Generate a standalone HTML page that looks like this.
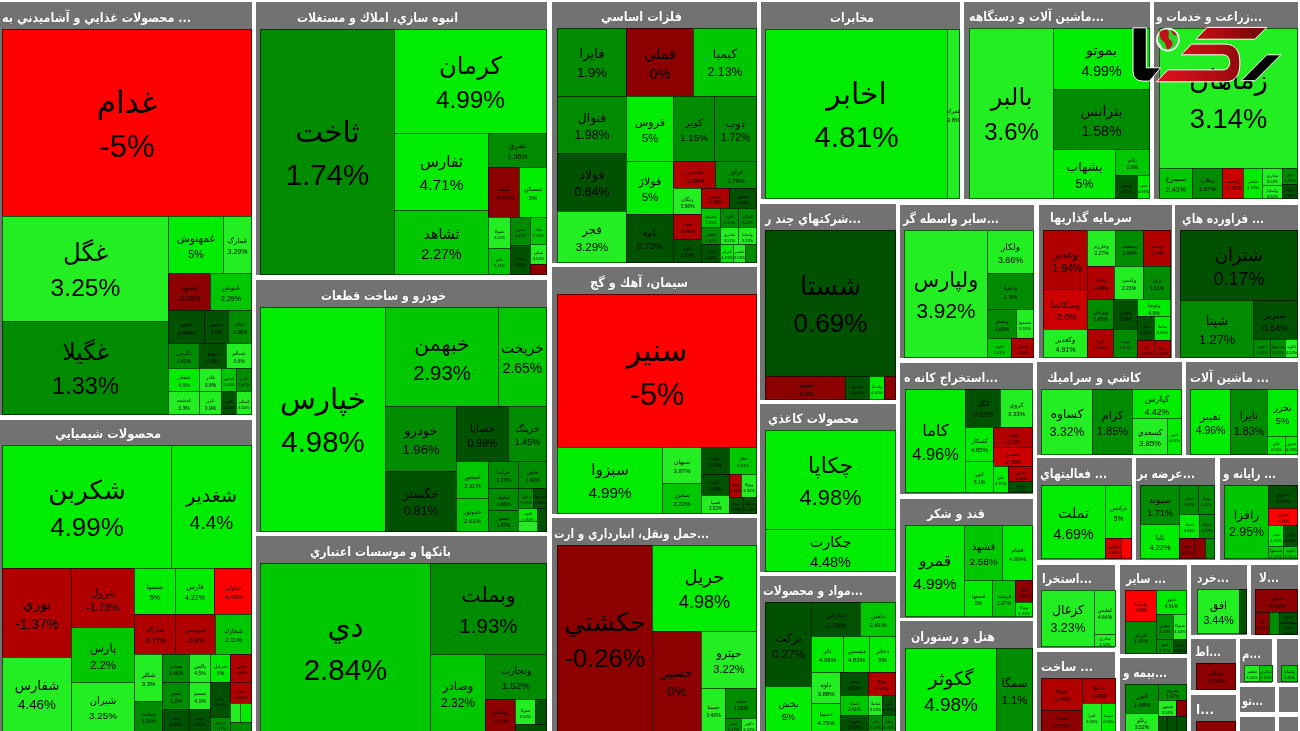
<!DOCTYPE html><html lang="fa"><head><meta charset="utf-8"><title>نقشه بازار</title><style>
*{margin:0;padding:0}
html,body{width:1300px;height:731px;overflow:hidden;background:#fff}
body{position:relative;font-family:"Liberation Sans","DejaVu Sans",sans-serif}
.p{position:absolute;background:#727272}
.h{position:absolute;height:16px;line-height:16px;color:#fff;font-weight:bold;font-size:13px;white-space:nowrap;font-family:"DejaVu Sans","Liberation Sans",sans-serif;transform-origin:0 50%;text-shadow:0 0 1px #444}
.b{position:absolute;box-sizing:border-box;border:1px solid rgba(0,0,0,.6);overflow:hidden;color:#000;text-align:center;display:flex;flex-direction:column;align-items:center;justify-content:center;line-height:1.42;white-space:nowrap;padding-top:3px}
.b span{display:block}
.n{font-family:"DejaVu Sans",sans-serif}
svg{position:absolute}
#w{position:absolute;left:0;top:0;width:1300px;height:731px;filter:blur(0.4px)}
</style></head><body><div id="w">
<div class="p" style="left:0px;top:2px;width:252px;height:413px"></div>
<div class="p" style="left:0px;top:420px;width:252px;height:311px"></div>
<div class="p" style="left:256px;top:2px;width:291px;height:273px"></div>
<div class="p" style="left:256px;top:280px;width:291px;height:252px"></div>
<div class="p" style="left:256px;top:536px;width:291px;height:195px"></div>
<div class="p" style="left:552px;top:2px;width:205px;height:261px"></div>
<div class="p" style="left:552px;top:267px;width:205px;height:247px"></div>
<div class="p" style="left:552px;top:518px;width:205px;height:213px"></div>
<div class="p" style="left:761px;top:2px;width:199px;height:197px"></div>
<div class="p" style="left:760px;top:204px;width:136px;height:196px"></div>
<div class="p" style="left:760px;top:404px;width:136px;height:168px"></div>
<div class="p" style="left:760px;top:576px;width:136px;height:155px"></div>
<div class="p" style="left:900px;top:205px;width:134px;height:153px"></div>
<div class="p" style="left:900px;top:363px;width:133px;height:131px"></div>
<div class="p" style="left:900px;top:499px;width:133px;height:119px"></div>
<div class="p" style="left:900px;top:621px;width:133px;height:110px"></div>
<div class="p" style="left:964px;top:2px;width:186px;height:197px"></div>
<div class="p" style="left:1154px;top:2px;width:144px;height:197px"></div>
<div class="p" style="left:1039px;top:205px;width:133px;height:153px"></div>
<div class="p" style="left:1175px;top:205px;width:123px;height:153px"></div>
<div class="p" style="left:1037px;top:362px;width:145px;height:93px"></div>
<div class="p" style="left:1186px;top:362px;width:112px;height:93px"></div>
<div class="p" style="left:1037px;top:458px;width:95px;height:102px"></div>
<div class="p" style="left:1136px;top:458px;width:79px;height:102px"></div>
<div class="p" style="left:1220px;top:458px;width:78px;height:102px"></div>
<div class="p" style="left:1037px;top:565px;width:78px;height:83px"></div>
<div class="p" style="left:1120px;top:565px;width:67px;height:89px"></div>
<div class="p" style="left:1191px;top:565px;width:56px;height:70px"></div>
<div class="p" style="left:1251px;top:565px;width:47px;height:70px"></div>
<div class="p" style="left:1037px;top:652px;width:78px;height:79px"></div>
<div class="p" style="left:1120px;top:658px;width:67px;height:73px"></div>
<div class="p" style="left:1191px;top:639px;width:45px;height:51px"></div>
<div class="p" style="left:1240px;top:639px;width:32px;height:44px"></div>
<div class="p" style="left:1277px;top:639px;width:21px;height:44px"></div>
<div class="p" style="left:1240px;top:687px;width:35px;height:25px"></div>
<div class="p" style="left:1279px;top:687px;width:19px;height:25px"></div>
<div class="p" style="left:1191px;top:695px;width:45px;height:36px"></div>
<div class="p" style="left:1240px;top:717px;width:35px;height:14px"></div>
<div class="p" style="left:1279px;top:717px;width:19px;height:14px"></div>
<div class="h" id="h0" style="left:2px;top:10px;transform:scaleX(0.862)">محصولات غذايي و آشاميدني به ...</div>
<div class="h" id="h1" style="left:55px;top:426px;transform:scaleX(0.878)">محصولات شيميايي</div>
<div class="h" id="h2" style="left:297px;top:10px;transform:scaleX(0.848)">انبوه سازي، املاك و مستغلات</div>
<div class="h" id="h3" style="left:321px;top:288px;transform:scaleX(0.841)">خودرو و ساخت قطعات</div>
<div class="h" id="h4" style="left:310px;top:544px;transform:scaleX(0.851)">بانكها و موسسات اعتباري</div>
<div class="h" id="h5" style="left:601px;top:9px;transform:scaleX(0.880)">فلزات اساسي</div>
<div class="h" id="h6" style="left:590px;top:275px;transform:scaleX(0.876)">سيمان، آهك و گچ</div>
<div class="h" id="h7" style="left:554px;top:526px;transform:scaleX(0.807)">حمل ونقل، انبارداري و ارت...</div>
<div class="h" id="h8" style="left:830px;top:10px;transform:scaleX(0.833)">مخابرات</div>
<div class="h" id="h9" style="left:765px;top:211px;transform:scaleX(0.852)">شركتهاي چند ر...</div>
<div class="h" id="h10" style="left:768px;top:411px;transform:scaleX(0.855)">محصولات كاغذي</div>
<div class="h" id="h11" style="left:763px;top:583px;transform:scaleX(0.830)">مواد و محصولات...</div>
<div class="h" id="h12" style="left:903px;top:211px;transform:scaleX(0.827)">ساير واسطه گر...</div>
<div class="h" id="h13" style="left:904px;top:370px;transform:scaleX(0.850)">استخراج كانه ه...</div>
<div class="h" id="h14" style="left:927px;top:506px;transform:scaleX(0.867)">قند و شكر</div>
<div class="h" id="h15" style="left:911px;top:629px;transform:scaleX(0.841)">هتل و رستوران</div>
<div class="h" id="h16" style="left:969px;top:9px;transform:scaleX(0.841)">ماشين آلات و دستگاهه...</div>
<div class="h" id="h17" style="left:1156px;top:9px;transform:scaleX(0.818)">زراعت و خدمات و...</div>
<div class="h" id="h18" style="left:1050px;top:210px;transform:scaleX(0.850)">سرمايه گذاريها</div>
<div class="h" id="h19" style="left:1182px;top:211px;transform:scaleX(0.815)">فراورده هاي ...</div>
<div class="h" id="h20" style="left:1047px;top:370px;transform:scaleX(0.884)">كاشي و سراميك</div>
<div class="h" id="h21" style="left:1190px;top:370px;transform:scaleX(0.842)">ماشين آلات ...</div>
<div class="h" id="h22" style="left:1040px;top:466px;transform:scaleX(0.828)">فعاليتهاي ...</div>
<div class="h" id="h23" style="left:1137px;top:466px;transform:scaleX(0.832)">عرضه بر...</div>
<div class="h" id="h24" style="left:1223px;top:466px;transform:scaleX(0.798)">رايانه و ...</div>
<div class="h" id="h25" style="left:1042px;top:571px;transform:scaleX(0.843)">استخرا...</div>
<div class="h" id="h26" style="left:1126px;top:571px;transform:scaleX(0.800)">ساير ...</div>
<div class="h" id="h27" style="left:1197px;top:570px;transform:scaleX(0.821)">خرد...</div>
<div class="h" id="h28" style="left:1259px;top:570px;transform:scaleX(0.816)">لا...</div>
<div class="h" id="h29" style="left:1041px;top:659px;transform:scaleX(0.865)">ساخت ...</div>
<div class="h" id="h30" style="left:1123px;top:665px;transform:scaleX(0.811)">بيمه و...</div>
<div class="h" id="h31" style="left:1195px;top:644px;transform:scaleX(0.793)">اط...</div>
<div class="h" id="h32" style="left:1242px;top:646px;transform:scaleX(0.780)">م...</div>
<div class="h" id="h34" style="left:1242px;top:693px;transform:scaleX(0.753)">تو...</div>
<div class="h" id="h36" style="left:1196px;top:702px;transform:scaleX(0.933)">ا...</div>
<div class="b" style="left:2px;top:29px;width:250px;height:188px;background:#fe0000;font-size:31.15px"><span class="n">غدام</span><span>-5%</span></div>
<div class="b" style="left:2px;top:216px;width:167px;height:106px;background:#22ee22;font-size:24.62px"><span class="n">غگل</span><span>3.25%</span></div>
<div class="b" style="left:2px;top:321px;width:167px;height:94px;background:#008c00;font-size:23.58px"><span class="n">غگيلا</span><span>1.33%</span></div>
<div class="b" style="left:168px;top:216px;width:56px;height:58px;background:#00ec00;font-size:10.67px"><span class="n">غمهنوش</span><span>5%</span></div>
<div class="b" style="left:223px;top:216px;width:29px;height:58px;background:#22ee22;font-size:7px"><span class="n">غمارگ</span><span>3.29%</span></div>
<div class="b" style="left:168px;top:273px;width:43px;height:38px;background:#8c0000;font-size:7px"><span class="n">غشهد</span><span>-0.38%</span></div>
<div class="b" style="left:210px;top:273px;width:42px;height:38px;background:#00c800;font-size:7px"><span class="n">غنوش</span><span>2.29%</span></div>
<div class="b" style="left:168px;top:310px;width:37px;height:34px;background:#005200;font-size:6px"><span class="n">غپينو</span><span>0.88%</span></div>
<div class="b" style="left:204px;top:310px;width:25px;height:34px;background:#005200;font-size:5px"><span class="n">غبشهر</span><span>1.0%</span></div>
<div class="b" style="left:228px;top:310px;width:24px;height:34px;background:#008c00;font-size:5px"><span class="n">غپاك</span><span>1.09%</span></div>
<div class="b" style="left:168px;top:343px;width:32px;height:26px;background:#008c00;font-size:5px"><span class="n">غگرجي</span><span>1.41%</span></div>
<div class="b" style="left:199px;top:343px;width:28px;height:26px;background:#005200;font-size:5px"><span class="n">غبهنو</span><span>0.5%</span></div>
<div class="b" style="left:226px;top:343px;width:26px;height:26px;background:#22ee22;font-size:5px"><span class="n">غسالم</span><span>3.6%</span></div>
<div class="b" style="left:168px;top:368px;width:32px;height:24px;background:#00ec00;font-size:5px"><span class="n">غشاذر</span><span>4.5%</span></div>
<div class="b" style="left:199px;top:368px;width:23px;height:24px;background:#22ee22;font-size:5px"><span class="n">غاذر</span><span>3.8%</span></div>
<div class="b" style="left:221px;top:368px;width:16px;height:24px;background:#00c800;font-size:4px"><span class="n">غبشهر</span><span>2.41%</span></div>
<div class="b" style="left:236px;top:368px;width:16px;height:24px;background:#008c00;font-size:4px"><span class="n">خفنر</span><span>1.47%</span></div>
<div class="b" style="left:168px;top:391px;width:32px;height:24px;background:#22ee22;font-size:5px"><span class="n">غدشت</span><span>3.3%</span></div>
<div class="b" style="left:199px;top:391px;width:23px;height:24px;background:#22ee22;font-size:5px"><span class="n">غزر</span><span>3.9%</span></div>
<div class="b" style="left:221px;top:391px;width:16px;height:24px;background:#005200;font-size:4px"><span class="n">ثالوند</span><span>0.63%</span></div>
<div class="b" style="left:236px;top:391px;width:16px;height:24px;background:#22ee22;font-size:4px"><span class="n">كمنگنز</span><span>3.52%</span></div>
<div class="b" style="left:2px;top:445px;width:170px;height:124px;background:#00ec00;font-size:26.01px"><span class="n">شكربن</span><span>4.99%</span></div>
<div class="b" style="left:171px;top:445px;width:81px;height:124px;background:#00ec00;font-size:19.02px"><span class="n">شغدير</span><span>4.4%</span></div>
<div class="b" style="left:2px;top:568px;width:70px;height:90px;background:#b00000;font-size:13.79px"><span class="n">نوري</span><span>-1.37%</span></div>
<div class="b" style="left:2px;top:657px;width:70px;height:75px;background:#22ee22;font-size:13.34px"><span class="n">شفارس</span><span>4.46%</span></div>
<div class="b" style="left:71px;top:568px;width:64px;height:60px;background:#b00000;font-size:10.52px"><span class="n">بترول</span><span>-1.78%</span></div>
<div class="b" style="left:71px;top:627px;width:64px;height:56px;background:#00c800;font-size:11.46px"><span class="n">پارس</span><span>2.2%</span></div>
<div class="b" style="left:71px;top:682px;width:64px;height:50px;background:#22ee22;font-size:9.9px"><span class="n">شيران</span><span>3.25%</span></div>
<div class="b" style="left:134px;top:568px;width:42px;height:47px;background:#00ec00;font-size:7px"><span class="n">شسپا</span><span>5%</span></div>
<div class="b" style="left:175px;top:568px;width:40px;height:47px;background:#00ec00;font-size:7px"><span class="n">فارس</span><span>4.22%</span></div>
<div class="b" style="left:214px;top:568px;width:38px;height:47px;background:#fe0000;font-size:6px"><span class="n">شاوان</span><span>-5.09%</span></div>
<div class="b" style="left:134px;top:614px;width:42px;height:41px;background:#b00000;font-size:7px"><span class="n">شاراك</span><span>-0.77%</span></div>
<div class="b" style="left:175px;top:614px;width:41px;height:41px;background:#b00000;font-size:7px"><span class="n">شپديس</span><span>-0.8%</span></div>
<div class="b" style="left:215px;top:614px;width:37px;height:41px;background:#00c800;font-size:6px"><span class="n">شخارك</span><span>2.11%</span></div>
<div class="b" style="left:134px;top:654px;width:29px;height:48px;background:#22ee22;font-size:6px"><span class="n">شكلر</span><span>3.3%</span></div>
<div class="b" style="left:134px;top:701px;width:29px;height:31px;background:#008c00;font-size:5px"><span class="n">شپاكسا</span><span>1.33%</span></div>
<div class="b" style="left:162px;top:654px;width:28px;height:29px;background:#008c00;font-size:5px"><span class="n">شبندر</span><span>1.46%</span></div>
<div class="b" style="left:162px;top:682px;width:28px;height:28px;background:#008c00;font-size:5px"><span class="n">شفن</span><span>1.2%</span></div>
<div class="b" style="left:162px;top:709px;width:28px;height:23px;background:#005200;font-size:4.3px"><span class="n">دتماد</span><span>0.63%</span></div>
<div class="b" style="left:189px;top:654px;width:22px;height:29px;background:#22ee22;font-size:5px"><span class="n">پاكس</span><span>4.5%</span></div>
<div class="b" style="left:189px;top:682px;width:22px;height:28px;background:#22ee22;font-size:5px"><span class="n">شسم</span><span>4.1%</span></div>
<div class="b" style="left:189px;top:709px;width:22px;height:23px;background:#005200;font-size:4px"><span class="n">ثنوسا</span><span>0.63%</span></div>
<div class="b" style="left:210px;top:654px;width:21px;height:29px;background:#00ec00;font-size:5px"><span class="n">شرانل</span><span>5%</span></div>
<div class="b" style="left:210px;top:682px;width:21px;height:36px;background:#005200;font-size:4px"><span class="n">رتكو</span><span>0.63%</span></div>
<div class="b" style="left:210px;top:717px;width:21px;height:15px;background:#008c00;font-size:4px"><span class="n">ساروم</span><span>1.47%</span></div>
<div class="b" style="left:230px;top:654px;width:22px;height:29px;background:#b00000;font-size:4px"><span class="n">غبشهر</span><span>-1.46%</span></div>
<div class="b" style="left:230px;top:682px;width:22px;height:22px;background:#b00000;font-size:4px"><span class="n">خفنر</span><span>-1.46%</span></div>
<div class="b" style="left:230px;top:703px;width:11px;height:20px;background:#22ee22;font-size:5px"></div>
<div class="b" style="left:240px;top:703px;width:12px;height:20px;background:#00ec00;font-size:5px"></div>
<div class="b" style="left:230px;top:722px;width:22px;height:10px;background:#008c00;font-size:5px"></div>
<div class="b" style="left:260px;top:29px;width:135px;height:246px;background:#008c00;font-size:29.52px"><span class="n">ثاخت</span><span>1.74%</span></div>
<div class="b" style="left:394px;top:29px;width:153px;height:105px;background:#00ec00;font-size:24.3px"><span class="n">كرمان</span><span>4.99%</span></div>
<div class="b" style="left:394px;top:133px;width:95px;height:78px;background:#00ec00;font-size:15.49px"><span class="n">ثفارس</span><span>4.71%</span></div>
<div class="b" style="left:394px;top:210px;width:95px;height:65px;background:#00c800;font-size:14.25px"><span class="n">ثشاهد</span><span>2.27%</span></div>
<div class="b" style="left:488px;top:133px;width:59px;height:35px;background:#008c00;font-size:7px"><span class="n">ثشرق</span><span>1.96%</span></div>
<div class="b" style="left:488px;top:167px;width:32px;height:51px;background:#8c0000;font-size:6px"><span class="n">ثاميد</span><span>-0.37%</span></div>
<div class="b" style="left:519px;top:167px;width:28px;height:51px;background:#00ec00;font-size:6px"><span class="n">ثمسكن</span><span>5%</span></div>
<div class="b" style="left:488px;top:217px;width:23px;height:32px;background:#22ee22;font-size:4px"><span class="n">شتوكا</span><span>3.52%</span></div>
<div class="b" style="left:488px;top:248px;width:23px;height:27px;background:#00c800;font-size:4px"><span class="n">تكنو</span><span>2.41%</span></div>
<div class="b" style="left:510px;top:217px;width:21px;height:29px;background:#008c00;font-size:4px"><span class="n">سدور</span><span>1.47%</span></div>
<div class="b" style="left:510px;top:245px;width:21px;height:30px;background:#005200;font-size:4px"><span class="n">وساپا</span><span>0.63%</span></div>
<div class="b" style="left:530px;top:217px;width:17px;height:28px;background:#00c800;font-size:4px"><span class="n">غپاك</span><span>2.41%</span></div>
<div class="b" style="left:530px;top:244px;width:17px;height:21px;background:#22ee22;font-size:4px"><span class="n">شپلي</span><span>3.52%</span></div>
<div class="b" style="left:530px;top:264px;width:17px;height:11px;background:#8c0000;font-size:5px"></div>
<div class="b" style="left:260px;top:307px;width:126px;height:225px;background:#00ec00;font-size:29.42px"><span class="n">خپارس</span><span>4.98%</span></div>
<div class="b" style="left:385px;top:307px;width:114px;height:100px;background:#00c800;font-size:20.36px"><span class="n">خبهمن</span><span>2.93%</span></div>
<div class="b" style="left:498px;top:307px;width:49px;height:100px;background:#00c800;font-size:13.96px"><span class="n">خريخت</span><span>2.65%</span></div>
<div class="b" style="left:385px;top:406px;width:72px;height:66px;background:#008c00;font-size:13.14px"><span class="n">خودرو</span><span>1.96%</span></div>
<div class="b" style="left:456px;top:406px;width:53px;height:56px;background:#005200;font-size:10.53px"><span class="n">خساپا</span><span>0.98%</span></div>
<div class="b" style="left:508px;top:406px;width:39px;height:56px;background:#008c00;font-size:9px"><span class="n">خرينگ</span><span>1.45%</span></div>
<div class="b" style="left:385px;top:471px;width:72px;height:61px;background:#005200;font-size:12.24px"><span class="n">خگستر</span><span>0.81%</span></div>
<div class="b" style="left:456px;top:461px;width:33px;height:38px;background:#00c800;font-size:6px"><span class="n">خمحور</span><span>2.11%</span></div>
<div class="b" style="left:456px;top:498px;width:33px;height:34px;background:#00c800;font-size:6px"><span class="n">خموتور</span><span>2.61%</span></div>
<div class="b" style="left:488px;top:461px;width:31px;height:28px;background:#008c00;font-size:5px"><span class="n">خزاميا</span><span>1.73%</span></div>
<div class="b" style="left:488px;top:488px;width:31px;height:23px;background:#008c00;font-size:5px"><span class="n">خكمك</span><span>1.66%</span></div>
<div class="b" style="left:488px;top:510px;width:31px;height:22px;background:#008c00;font-size:4.8px"><span class="n">غبشهر</span><span>1.47%</span></div>
<div class="b" style="left:518px;top:461px;width:29px;height:28px;background:#008c00;font-size:5px"><span class="n">خاهن</span><span>1.46%</span></div>
<div class="b" style="left:518px;top:488px;width:16px;height:21px;background:#008c00;font-size:4px"><span class="n">دكوثر</span><span>1.47%</span></div>
<div class="b" style="left:533px;top:488px;width:14px;height:21px;background:#005200;font-size:4px"><span class="n">شصفها</span><span>0.63%</span></div>
<div class="b" style="left:518px;top:508px;width:20px;height:14px;background:#00ec00;font-size:4px"><span class="n">ثالوند</span><span>4.91%</span></div>
<div class="b" style="left:537px;top:508px;width:10px;height:24px;background:#005200;font-size:5px"></div>
<div class="b" style="left:518px;top:521px;width:20px;height:11px;background:#22ee22;font-size:5px"></div>
<div class="b" style="left:260px;top:563px;width:171px;height:169px;background:#00c800;font-size:29.53px"><span class="n">دي</span><span>2.84%</span></div>
<div class="b" style="left:430px;top:563px;width:117px;height:92px;background:#008c00;font-size:20.55px"><span class="n">وبملت</span><span>1.93%</span></div>
<div class="b" style="left:430px;top:654px;width:56px;height:78px;background:#00c800;font-size:11.96px"><span class="n">وصادر</span><span>2.32%</span></div>
<div class="b" style="left:485px;top:654px;width:62px;height:46px;background:#008c00;font-size:9.96px"><span class="n">وتجارت</span><span>1.52%</span></div>
<div class="b" style="left:485px;top:699px;width:31px;height:33px;background:#8c0000;font-size:6px"><span class="n">وپاسار</span><span>-0.7%</span></div>
<div class="b" style="left:515px;top:699px;width:21px;height:26px;background:#22ee22;font-size:4px"><span class="n">شتوكا</span><span>3.52%</span></div>
<div class="b" style="left:535px;top:699px;width:12px;height:26px;background:#005200;font-size:5px"></div>
<div class="b" style="left:515px;top:724px;width:32px;height:8px;background:#005200;font-size:5px"></div>
<div class="b" style="left:557px;top:28px;width:70px;height:69px;background:#008c00;font-size:13.2px"><span class="n">فايرا</span><span>1.9%</span></div>
<div class="b" style="left:626px;top:28px;width:68px;height:69px;background:#8c0000;font-size:14.18px"><span class="n">فملي</span><span>0%</span></div>
<div class="b" style="left:693px;top:28px;width:64px;height:69px;background:#00c800;font-size:12.36px"><span class="n">كيميا</span><span>2.13%</span></div>
<div class="b" style="left:557px;top:96px;width:70px;height:58px;background:#008c00;font-size:12.42px"><span class="n">فنوال</span><span>1.98%</span></div>
<div class="b" style="left:557px;top:153px;width:70px;height:59px;background:#005200;font-size:12.42px"><span class="n">فولاد</span><span>0.64%</span></div>
<div class="b" style="left:557px;top:211px;width:70px;height:52px;background:#22ee22;font-size:11.52px"><span class="n">فجر</span><span>3.29%</span></div>
<div class="b" style="left:626px;top:96px;width:48px;height:66px;background:#00ec00;font-size:11.11px"><span class="n">فروس</span><span>5%</span></div>
<div class="b" style="left:626px;top:161px;width:48px;height:54px;background:#00ec00;font-size:11.11px"><span class="n">فولاژ</span><span>5%</span></div>
<div class="b" style="left:626px;top:214px;width:48px;height:49px;background:#005200;font-size:8.93px"><span class="n">تاوه</span><span>0.73%</span></div>
<div class="b" style="left:673px;top:96px;width:42px;height:66px;background:#008c00;font-size:9.87px"><span class="n">كوير</span><span>1.15%</span></div>
<div class="b" style="left:714px;top:96px;width:43px;height:66px;background:#008c00;font-size:10.24px"><span class="n">ذوب</span><span>1.72%</span></div>
<div class="b" style="left:673px;top:161px;width:43px;height:28px;background:#b00000;font-size:6px"><span class="n">فسرب</span><span>-1.48%</span></div>
<div class="b" style="left:715px;top:161px;width:42px;height:28px;background:#008c00;font-size:6px"><span class="n">فرآور</span><span>1.79%</span></div>
<div class="b" style="left:673px;top:188px;width:29px;height:27px;background:#22ee22;font-size:5px"><span class="n">زنگان</span><span>3.56%</span></div>
<div class="b" style="left:701px;top:188px;width:29px;height:21px;background:#b00000;font-size:4.5px"><span class="n">ساروم</span><span>-1.46%</span></div>
<div class="b" style="left:729px;top:188px;width:28px;height:21px;background:#005200;font-size:4.3px"><span class="n">غبشهر</span><span>0.63%</span></div>
<div class="b" style="left:673px;top:214px;width:29px;height:26px;background:#b00000;font-size:4.5px"><span class="n">خفنر</span><span>-1.46%</span></div>
<div class="b" style="left:673px;top:239px;width:29px;height:24px;background:#005200;font-size:4.5px"><span class="n">دكوثر</span><span>0.63%</span></div>
<div class="b" style="left:701px;top:208px;width:20px;height:20px;background:#00c800;font-size:4px"><span class="n">شصفها</span><span>2.41%</span></div>
<div class="b" style="left:720px;top:208px;width:19px;height:20px;background:#008c00;font-size:4px"><span class="n">ثالوند</span><span>1.47%</span></div>
<div class="b" style="left:738px;top:208px;width:19px;height:20px;background:#008c00;font-size:4px"><span class="n">كمنگنز</span><span>1.47%</span></div>
<div class="b" style="left:701px;top:227px;width:20px;height:18px;background:#008c00;font-size:4px"><span class="n">فباهنر</span><span>1.47%</span></div>
<div class="b" style="left:720px;top:227px;width:19px;height:18px;background:#22ee22;font-size:4px"><span class="n">ساذري</span><span>3.52%</span></div>
<div class="b" style="left:738px;top:227px;width:19px;height:18px;background:#22ee22;font-size:4px"><span class="n">ولساپا</span><span>3.52%</span></div>
<div class="b" style="left:701px;top:244px;width:20px;height:19px;background:#005200;font-size:4px"><span class="n">دابور</span><span>0.63%</span></div>
<div class="b" style="left:720px;top:244px;width:14px;height:19px;background:#00ec00;font-size:4px"><span class="n">كترام</span><span>4.91%</span></div>
<div class="b" style="left:733px;top:244px;width:13px;height:19px;background:#22ee22;font-size:4px"><span class="n">خنصير</span><span>3.52%</span></div>
<div class="b" style="left:745px;top:244px;width:12px;height:19px;background:#008c00;font-size:5px"></div>
<div class="b" style="left:557px;top:294px;width:200px;height:154px;background:#fe0000;font-size:30.72px"><span class="n">سنير</span><span>-5%</span></div>
<div class="b" style="left:557px;top:447px;width:106px;height:67px;background:#00ec00;font-size:15.26px"><span class="n">سبزوا</span><span>4.99%</span></div>
<div class="b" style="left:662px;top:447px;width:40px;height:37px;background:#22ee22;font-size:6px"><span class="n">سبهان</span><span>3.87%</span></div>
<div class="b" style="left:662px;top:483px;width:40px;height:31px;background:#00c800;font-size:6px"><span class="n">سخزر</span><span>2.22%</span></div>
<div class="b" style="left:701px;top:447px;width:29px;height:28px;background:#005200;font-size:4.5px"><span class="n">شپلي</span><span>0.63%</span></div>
<div class="b" style="left:729px;top:447px;width:28px;height:28px;background:#00c800;font-size:4.3px"><span class="n">خكار</span><span>2.41%</span></div>
<div class="b" style="left:701px;top:474px;width:29px;height:22px;background:#005200;font-size:4.5px"><span class="n">كاوه</span><span>0.63%</span></div>
<div class="b" style="left:701px;top:495px;width:29px;height:19px;background:#22ee22;font-size:4.5px"><span class="n">فسپا</span><span>3.52%</span></div>
<div class="b" style="left:729px;top:474px;width:13px;height:24px;background:#b00000;font-size:4px"><span class="n">سفار</span><span>-1.46%</span></div>
<div class="b" style="left:741px;top:474px;width:16px;height:24px;background:#22ee22;font-size:4px"><span class="n">وتوكا</span><span>3.52%</span></div>
<div class="b" style="left:729px;top:497px;width:15px;height:17px;background:#005200;font-size:4px"><span class="n">دتماد</span><span>0.63%</span></div>
<div class="b" style="left:743px;top:497px;width:14px;height:17px;background:#005200;font-size:4px"><span class="n">شاملا</span><span>0.63%</span></div>
<div class="b" style="left:557px;top:545px;width:96px;height:187px;background:#8c0000;font-size:25.49px"><span class="n">حكشتي</span><span>-0.26%</span></div>
<div class="b" style="left:652px;top:545px;width:105px;height:87px;background:#00ec00;font-size:18.08px"><span class="n">حريل</span><span>4.98%</span></div>
<div class="b" style="left:652px;top:631px;width:50px;height:101px;background:#8c0000;font-size:13.34px"><span class="n">حسير</span><span>0%</span></div>
<div class="b" style="left:701px;top:631px;width:56px;height:58px;background:#22ee22;font-size:11.08px"><span class="n">حپترو</span><span>3.22%</span></div>
<div class="b" style="left:701px;top:688px;width:25px;height:44px;background:#22ee22;font-size:5px"><span class="n">حسينا</span><span>3.43%</span></div>
<div class="b" style="left:725px;top:688px;width:32px;height:31px;background:#008c00;font-size:5px"><span class="n">حتايد</span><span>1.28%</span></div>
<div class="b" style="left:725px;top:718px;width:17px;height:14px;background:#008c00;font-size:4px"><span class="n">خفنر</span><span>1.47%</span></div>
<div class="b" style="left:741px;top:718px;width:16px;height:14px;background:#22ee22;font-size:4px"><span class="n">دكوثر</span><span>3.52%</span></div>
<div class="b" style="left:765px;top:29px;width:183px;height:170px;background:#00ec00;font-size:29.78px"><span class="n">اخابر</span><span>4.81%</span></div>
<div class="b" style="left:947px;top:29px;width:13px;height:170px;background:#22ee22;font-size:6px"><span class="n">همراه</span><span>3.8%</span></div>
<div class="b" style="left:765px;top:230px;width:131px;height:147px;background:#005200;font-size:26.15px"><span class="n">شستا</span><span>0.69%</span></div>
<div class="b" style="left:765px;top:376px;width:81px;height:24px;background:#8c0000;font-size:6px"><span class="n">شبندر</span><span>-0.4%</span></div>
<div class="b" style="left:845px;top:376px;width:25px;height:24px;background:#005200;font-size:4px"><span class="n">ساذري</span><span>0.63%</span></div>
<div class="b" style="left:869px;top:376px;width:16px;height:24px;background:#00ec00;font-size:4px"><span class="n">ولساپا</span><span>4.91%</span></div>
<div class="b" style="left:884px;top:376px;width:12px;height:24px;background:#8c0000;font-size:5px"></div>
<div class="b" style="left:765px;top:430px;width:131px;height:100px;background:#00ec00;font-size:21.89px"><span class="n">چكاپا</span><span>4.98%</span></div>
<div class="b" style="left:765px;top:529px;width:131px;height:43px;background:#00ec00;font-size:14.34px"><span class="n">چكارت</span><span>4.48%</span></div>
<div class="b" style="left:765px;top:602px;width:47px;height:85px;background:#005200;font-size:11.57px"><span class="n">بركت</span><span>0.27%</span></div>
<div class="b" style="left:765px;top:686px;width:47px;height:46px;background:#00ec00;font-size:9px"><span class="n">بخش</span><span>5%</span></div>
<div class="b" style="left:811px;top:602px;width:50px;height:35px;background:#005200;font-size:7px"><span class="n">دپارس</span><span>0.79%</span></div>
<div class="b" style="left:860px;top:602px;width:36px;height:35px;background:#00c800;font-size:6px"><span class="n">دامين</span><span>2.81%</span></div>
<div class="b" style="left:811px;top:636px;width:33px;height:37px;background:#00ec00;font-size:6px"><span class="n">دلر</span><span>4.99%</span></div>
<div class="b" style="left:843px;top:636px;width:27px;height:37px;background:#00ec00;font-size:6px"><span class="n">ديسمي</span><span>4.83%</span></div>
<div class="b" style="left:869px;top:636px;width:27px;height:37px;background:#00ec00;font-size:6px"><span class="n">دجابر</span><span>5%</span></div>
<div class="b" style="left:811px;top:672px;width:30px;height:32px;background:#22ee22;font-size:6px"><span class="n">داوه</span><span>3.88%</span></div>
<div class="b" style="left:811px;top:703px;width:30px;height:29px;background:#00ec00;font-size:6px"><span class="n">دسينا</span><span>4.75%</span></div>
<div class="b" style="left:840px;top:672px;width:29px;height:24px;background:#005200;font-size:4.5px"><span class="n">سفار</span><span>0.63%</span></div>
<div class="b" style="left:868px;top:672px;width:28px;height:24px;background:#b00000;font-size:4.3px"><span class="n">وتوكا</span><span>-1.46%</span></div>
<div class="b" style="left:840px;top:695px;width:29px;height:21px;background:#00c800;font-size:4.5px"><span class="n">دتماد</span><span>2.41%</span></div>
<div class="b" style="left:868px;top:695px;width:15px;height:21px;background:#22ee22;font-size:4px"><span class="n">شاملا</span><span>3.52%</span></div>
<div class="b" style="left:882px;top:695px;width:14px;height:21px;background:#005200;font-size:4px"><span class="n">كفرا</span><span>0.63%</span></div>
<div class="b" style="left:840px;top:715px;width:29px;height:17px;background:#005200;font-size:4.5px"><span class="n">ثنوسا</span><span>0.63%</span></div>
<div class="b" style="left:868px;top:715px;width:15px;height:17px;background:#008c00;font-size:4px"><span class="n">فاذر</span><span>1.47%</span></div>
<div class="b" style="left:882px;top:715px;width:14px;height:17px;background:#008c00;font-size:4px"><span class="n">رتكو</span><span>1.47%</span></div>
<div class="b" style="left:904px;top:230px;width:84px;height:128px;background:#22ee22;font-size:20.82px"><span class="n">ولپارس</span><span>3.92%</span></div>
<div class="b" style="left:987px;top:230px;width:47px;height:44px;background:#22ee22;font-size:8.88px"><span class="n">ولكار</span><span>3.86%</span></div>
<div class="b" style="left:987px;top:273px;width:47px;height:37px;background:#008c00;font-size:6px"><span class="n">واسپا</span><span>1.9%</span></div>
<div class="b" style="left:987px;top:309px;width:30px;height:30px;background:#008c00;font-size:5px"><span class="n">ولصنم</span><span>1.63%</span></div>
<div class="b" style="left:1016px;top:309px;width:18px;height:30px;background:#22ee22;font-size:4px"><span class="n">شصفها</span><span>3.52%</span></div>
<div class="b" style="left:987px;top:338px;width:25px;height:20px;background:#00c800;font-size:4px"><span class="n">ثالوند</span><span>2.41%</span></div>
<div class="b" style="left:1011px;top:338px;width:23px;height:20px;background:#b00000;font-size:4px"><span class="n">كمنگنز</span><span>-1.46%</span></div>
<div class="b" style="left:905px;top:389px;width:61px;height:104px;background:#00ec00;font-size:16.38px"><span class="n">كاما</span><span>4.96%</span></div>
<div class="b" style="left:965px;top:389px;width:36px;height:39px;background:#005200;font-size:7px"><span class="n">كگل</span><span>0.62%</span></div>
<div class="b" style="left:1000px;top:389px;width:33px;height:39px;background:#22ee22;font-size:6px"><span class="n">كروي</span><span>3.33%</span></div>
<div class="b" style="left:965px;top:427px;width:29px;height:35px;background:#00ec00;font-size:6px"><span class="n">كسكار</span><span>4.85%</span></div>
<div class="b" style="left:993px;top:427px;width:40px;height:21px;background:#b00000;font-size:5px"><span class="n">كچاد</span><span>-1.2%</span></div>
<div class="b" style="left:993px;top:447px;width:40px;height:20px;background:#cc0000;font-size:5.5px"><span class="n">خنصير</span><span>-2.38%</span></div>
<div class="b" style="left:965px;top:461px;width:29px;height:32px;background:#00ec00;font-size:5px"><span class="n">كنور</span><span>5.1%</span></div>
<div class="b" style="left:993px;top:466px;width:16px;height:27px;background:#00ec00;font-size:4px"><span class="n">تكنو</span><span>4.91%</span></div>
<div class="b" style="left:1008px;top:466px;width:25px;height:16px;background:#b00000;font-size:4px"><span class="n">سدور</span><span>-1.46%</span></div>
<div class="b" style="left:1008px;top:481px;width:25px;height:12px;background:#005200;font-size:4px"><span class="n">وساپا</span><span>0.63%</span></div>
<div class="b" style="left:905px;top:525px;width:60px;height:92px;background:#00ec00;font-size:15.34px"><span class="n">قمرو</span><span>4.99%</span></div>
<div class="b" style="left:964px;top:525px;width:39px;height:56px;background:#00c800;font-size:9.95px"><span class="n">قشهد</span><span>2.58%</span></div>
<div class="b" style="left:1002px;top:525px;width:31px;height:56px;background:#00ec00;font-size:6px"><span class="n">قجام</span><span>4.99%</span></div>
<div class="b" style="left:964px;top:580px;width:29px;height:37px;background:#00ec00;font-size:5px"><span class="n">قصفها</span><span>5%</span></div>
<div class="b" style="left:992px;top:580px;width:24px;height:37px;background:#00c800;font-size:5px"><span class="n">قرست</span><span>1.97%</span></div>
<div class="b" style="left:1015px;top:580px;width:18px;height:23px;background:#8c0000;font-size:4px"><span class="n">سفار</span><span>-0.52%</span></div>
<div class="b" style="left:1015px;top:602px;width:18px;height:15px;background:#00ec00;font-size:4px"><span class="n">وتوكا</span><span>4.91%</span></div>
<div class="b" style="left:905px;top:648px;width:92px;height:84px;background:#00ec00;font-size:18.93px"><span class="n">گكوثر</span><span>4.98%</span></div>
<div class="b" style="left:996px;top:648px;width:37px;height:84px;background:#008c00;font-size:11.43px"><span class="n">سمگا</span><span>1.1%</span></div>
<div class="b" style="left:969px;top:28px;width:85px;height:171px;background:#22ee22;font-size:23.93px"><span class="n">بالبر</span><span>3.6%</span></div>
<div class="b" style="left:1053px;top:28px;width:97px;height:62px;background:#00ec00;font-size:14.2px"><span class="n">بموتو</span><span>4.99%</span></div>
<div class="b" style="left:1053px;top:89px;width:97px;height:61px;background:#008c00;font-size:14.15px"><span class="n">بترانس</span><span>1.58%</span></div>
<div class="b" style="left:1053px;top:149px;width:63px;height:50px;background:#00ec00;font-size:12.47px"><span class="n">بشهاب</span><span>5%</span></div>
<div class="b" style="left:1115px;top:149px;width:35px;height:27px;background:#00c800;font-size:5px"><span class="n">بكام</span><span>2.8%</span></div>
<div class="b" style="left:1115px;top:175px;width:23px;height:24px;background:#005200;font-size:4px"><span class="n">غبشهر</span><span>0.63%</span></div>
<div class="b" style="left:1137px;top:175px;width:13px;height:24px;background:#00ec00;font-size:4px"><span class="n">خفنر</span><span>4.91%</span></div>
<div class="b" style="left:1159px;top:28px;width:139px;height:141px;background:#22ee22;font-size:27.3px"><span class="n">زماهان</span><span>3.14%</span></div>
<div class="b" style="left:1159px;top:168px;width:34px;height:31px;background:#00c800;font-size:7px"><span class="n">سيمرغ</span><span>2.43%</span></div>
<div class="b" style="left:1192px;top:168px;width:31px;height:31px;background:#008c00;font-size:6px"><span class="n">زملارد</span><span>1.67%</span></div>
<div class="b" style="left:1222px;top:168px;width:22px;height:31px;background:#cc0000;font-size:5px"><span class="n">زكشت</span><span>-1.78%</span></div>
<div class="b" style="left:1243px;top:168px;width:20px;height:31px;background:#00ec00;font-size:4px"><span class="n">فباهنر</span><span>4.91%</span></div>
<div class="b" style="left:1262px;top:168px;width:21px;height:18px;background:#22ee22;font-size:4px"><span class="n">ساذري</span><span>3.52%</span></div>
<div class="b" style="left:1262px;top:185px;width:21px;height:14px;background:#22ee22;font-size:4px"><span class="n">ولساپا</span><span>3.52%</span></div>
<div class="b" style="left:1282px;top:168px;width:16px;height:17px;background:#008c00;font-size:4px"><span class="n">دابور</span><span>1.47%</span></div>
<div class="b" style="left:1282px;top:184px;width:16px;height:15px;background:#005200;font-size:4px"><span class="n">كترام</span><span>0.63%</span></div>
<div class="b" style="left:1043px;top:230px;width:45px;height:60px;background:#b00000;font-size:10.39px"><span class="n">وغدير</span><span>-1.94%</span></div>
<div class="b" style="left:1043px;top:289px;width:45px;height:41px;background:#cc0000;font-size:8.82px"><span class="n">وسكاشا</span><span>-2.0%</span></div>
<div class="b" style="left:1043px;top:329px;width:45px;height:29px;background:#22ee22;font-size:7.02px"><span class="n">وكغدير</span><span>4.91%</span></div>
<div class="b" style="left:1087px;top:230px;width:29px;height:37px;background:#22ee22;font-size:5px"><span class="n">وخارزم</span><span>2.27%</span></div>
<div class="b" style="left:1115px;top:230px;width:29px;height:37px;background:#008c00;font-size:5px"><span class="n">وصنعت</span><span>1.99%</span></div>
<div class="b" style="left:1143px;top:230px;width:28px;height:37px;background:#b00000;font-size:5px"><span class="n">وسپه</span><span>-1.4%</span></div>
<div class="b" style="left:1087px;top:266px;width:28px;height:34px;background:#b00000;font-size:5px"><span class="n">وبانك</span><span>-1.84%</span></div>
<div class="b" style="left:1114px;top:266px;width:30px;height:34px;background:#22ee22;font-size:5px"><span class="n">وكسپ</span><span>2.23%</span></div>
<div class="b" style="left:1143px;top:266px;width:28px;height:34px;background:#008c00;font-size:5px"><span class="n">ونوا</span><span>1.61%</span></div>
<div class="b" style="left:1087px;top:299px;width:27px;height:31px;background:#008c00;font-size:5px"><span class="n">وبوعلي</span><span>1.45%</span></div>
<div class="b" style="left:1113px;top:299px;width:25px;height:31px;background:#005200;font-size:5px"><span class="n">وبهمن</span><span>0.9%</span></div>
<div class="b" style="left:1137px;top:299px;width:34px;height:18px;background:#00ec00;font-size:5px"><span class="n">وتوصا</span><span>4.9%</span></div>
<div class="b" style="left:1137px;top:316px;width:18px;height:25px;background:#005200;font-size:4px"><span class="n">دتماد</span><span>0.63%</span></div>
<div class="b" style="left:1154px;top:316px;width:17px;height:25px;background:#00ec00;font-size:4px"><span class="n">شاملا</span><span>4.91%</span></div>
<div class="b" style="left:1087px;top:329px;width:27px;height:29px;background:#b00000;font-size:4.2px"><span class="n">كفرا</span><span>-1.46%</span></div>
<div class="b" style="left:1113px;top:329px;width:25px;height:29px;background:#008c00;font-size:4px"><span class="n">ثنوسا</span><span>1.47%</span></div>
<div class="b" style="left:1137px;top:340px;width:18px;height:18px;background:#b00000;font-size:4px"><span class="n">فاذر</span><span>-1.46%</span></div>
<div class="b" style="left:1154px;top:340px;width:17px;height:18px;background:#b00000;font-size:4px"><span class="n">رتكو</span><span>-1.46%</span></div>
<div class="b" style="left:1180px;top:230px;width:118px;height:71px;background:#005200;font-size:17.78px"><span class="n">شتران</span><span>0.17%</span></div>
<div class="b" style="left:1180px;top:300px;width:74px;height:58px;background:#008c00;font-size:12.85px"><span class="n">شپنا</span><span>1.27%</span></div>
<div class="b" style="left:1253px;top:300px;width:45px;height:40px;background:#005200;font-size:9.01px"><span class="n">شبريز</span><span>0.54%</span></div>
<div class="b" style="left:1253px;top:339px;width:18px;height:19px;background:#008c00;font-size:4px"><span class="n">دكوثر</span><span>1.47%</span></div>
<div class="b" style="left:1270px;top:339px;width:16px;height:19px;background:#008c00;font-size:4px"><span class="n">شصفها</span><span>1.47%</span></div>
<div class="b" style="left:1285px;top:339px;width:13px;height:19px;background:#22ee22;font-size:4px"><span class="n">ثالوند</span><span>3.52%</span></div>
<div class="b" style="left:1041px;top:389px;width:52px;height:66px;background:#22ee22;font-size:12.12px"><span class="n">كساوه</span><span>3.32%</span></div>
<div class="b" style="left:1092px;top:389px;width:41px;height:66px;background:#008c00;font-size:11.12px"><span class="n">كرام</span><span>1.85%</span></div>
<div class="b" style="left:1132px;top:389px;width:50px;height:30px;background:#00ec00;font-size:8.77px"><span class="n">كپارس</span><span>4.42%</span></div>
<div class="b" style="left:1132px;top:418px;width:36px;height:37px;background:#22ee22;font-size:7.78px"><span class="n">كسعدي</span><span>3.85%</span></div>
<div class="b" style="left:1167px;top:418px;width:15px;height:37px;background:#00ec00;font-size:4px"><span class="n">دابور</span><span>4.91%</span></div>
<div class="b" style="left:1190px;top:389px;width:41px;height:66px;background:#00ec00;font-size:10.48px"><span class="n">تفيبر</span><span>4.96%</span></div>
<div class="b" style="left:1230px;top:389px;width:38px;height:66px;background:#008c00;font-size:10.82px"><span class="n">تايرا</span><span>1.83%</span></div>
<div class="b" style="left:1267px;top:389px;width:31px;height:48px;background:#00ec00;font-size:9.2px"><span class="n">تخزر</span><span>5%</span></div>
<div class="b" style="left:1267px;top:436px;width:19px;height:19px;background:#00ec00;font-size:4px"><span class="n">تكنو</span><span>4.91%</span></div>
<div class="b" style="left:1285px;top:436px;width:13px;height:19px;background:#00ec00;font-size:4px"><span class="n">سدور</span><span>4.91%</span></div>
<div class="b" style="left:1041px;top:485px;width:65px;height:74px;background:#00ec00;font-size:14.2px"><span class="n">تملت</span><span>4.69%</span></div>
<div class="b" style="left:1105px;top:485px;width:27px;height:54px;background:#00ec00;font-size:6.49px"><span class="n">ترانس</span><span>5%</span></div>
<div class="b" style="left:1105px;top:538px;width:17px;height:21px;background:#cc0000;font-size:4px"><span class="n">شپلي</span><span>-2.38%</span></div>
<div class="b" style="left:1121px;top:538px;width:11px;height:21px;background:#fe0000;font-size:5px"></div>
<div class="b" style="left:1140px;top:485px;width:40px;height:40px;background:#008c00;font-size:9.07px"><span class="n">سيوند</span><span>1.71%</span></div>
<div class="b" style="left:1140px;top:524px;width:40px;height:35px;background:#00ec00;font-size:7.36px"><span class="n">ثابا</span><span>4.22%</span></div>
<div class="b" style="left:1179px;top:485px;width:20px;height:30px;background:#008c00;font-size:4px"><span class="n">سفار</span><span>1.47%</span></div>
<div class="b" style="left:1198px;top:485px;width:17px;height:30px;background:#008c00;font-size:4px"><span class="n">وتوكا</span><span>1.47%</span></div>
<div class="b" style="left:1179px;top:514px;width:21px;height:25px;background:#00ec00;font-size:4px"><span class="n">دتماد</span><span>4.91%</span></div>
<div class="b" style="left:1199px;top:514px;width:16px;height:25px;background:#008c00;font-size:4px"><span class="n">شاملا</span><span>1.47%</span></div>
<div class="b" style="left:1179px;top:538px;width:16px;height:21px;background:#8c0000;font-size:4px"><span class="n">كفرا</span><span>-0.52%</span></div>
<div class="b" style="left:1194px;top:538px;width:12px;height:21px;background:#8c0000;font-size:5px"></div>
<div class="b" style="left:1205px;top:538px;width:10px;height:21px;background:#008c00;font-size:5px"></div>
<div class="b" style="left:1224px;top:485px;width:45px;height:74px;background:#00c800;font-size:12.42px"><span class="n">رافزا</span><span>2.95%</span></div>
<div class="b" style="left:1268px;top:485px;width:30px;height:24px;background:#005200;font-size:4.6px"><span class="n">ساروم</span><span>0.63%</span></div>
<div class="b" style="left:1268px;top:508px;width:30px;height:18px;background:#fe0000;font-size:4.6px"><span class="n">غبشهر</span><span>-4.8%</span></div>
<div class="b" style="left:1268px;top:525px;width:16px;height:22px;background:#00ec00;font-size:4px"><span class="n">خفنر</span><span>4.91%</span></div>
<div class="b" style="left:1283px;top:525px;width:15px;height:22px;background:#005200;font-size:4px"><span class="n">دكوثر</span><span>0.63%</span></div>
<div class="b" style="left:1268px;top:546px;width:16px;height:13px;background:#00c800;font-size:4px"><span class="n">شصفها</span><span>2.41%</span></div>
<div class="b" style="left:1283px;top:546px;width:15px;height:13px;background:#00c800;font-size:4px"><span class="n">ثالوند</span><span>2.41%</span></div>
<div class="b" style="left:1041px;top:590px;width:54px;height:57px;background:#22ee22;font-size:12.36px"><span class="n">كزغال</span><span>3.23%</span></div>
<div class="b" style="left:1094px;top:590px;width:22px;height:45px;background:#22ee22;font-size:5px"><span class="n">كطبس</span><span>4.64%</span></div>
<div class="b" style="left:1094px;top:634px;width:22px;height:13px;background:#22ee22;font-size:4px"><span class="n">ساذري</span><span>3.52%</span></div>
<div class="b" style="left:1125px;top:590px;width:32px;height:32px;background:#fe0000;font-size:4.9px"><span class="n">ولساپا</span><span>-4.8%</span></div>
<div class="b" style="left:1156px;top:590px;width:31px;height:25px;background:#00ec00;font-size:4.8px"><span class="n">دابور</span><span>4.91%</span></div>
<div class="b" style="left:1125px;top:621px;width:32px;height:33px;background:#008c00;font-size:4.9px"><span class="n">كترام</span><span>1.47%</span></div>
<div class="b" style="left:1156px;top:614px;width:18px;height:26px;background:#008c00;font-size:4px"><span class="n">خنصير</span><span>1.47%</span></div>
<div class="b" style="left:1173px;top:614px;width:14px;height:26px;background:#22ee22;font-size:4px"><span class="n">شتوكا</span><span>3.52%</span></div>
<div class="b" style="left:1156px;top:639px;width:18px;height:15px;background:#008c00;font-size:4px"><span class="n">تكنو</span><span>1.47%</span></div>
<div class="b" style="left:1173px;top:639px;width:14px;height:15px;background:#005200;font-size:4px"><span class="n">سدور</span><span>0.63%</span></div>
<div class="b" style="left:1197px;top:589px;width:43px;height:45px;background:#22ee22;font-size:10.67px"><span class="n">افق</span><span>3.44%</span></div>
<div class="b" style="left:1239px;top:589px;width:8px;height:45px;background:#005200;font-size:5px"></div>
<div class="b" style="left:1255px;top:589px;width:43px;height:24px;background:#8c0000;font-size:5.5px"><span class="n">شپلي</span><span>-0.52%</span></div>
<div class="b" style="left:1255px;top:612px;width:15px;height:23px;background:#8c0000;font-size:4px"><span class="n">خكار</span><span>-0.52%</span></div>
<div class="b" style="left:1269px;top:612px;width:11px;height:23px;background:#008c00;font-size:5px"></div>
<div class="b" style="left:1279px;top:612px;width:19px;height:12px;background:#005200;font-size:4px"><span class="n">فسپا</span><span>0.63%</span></div>
<div class="b" style="left:1279px;top:623px;width:19px;height:12px;background:#005200;font-size:4px"><span class="n">سفار</span><span>0.63%</span></div>
<div class="b" style="left:1041px;top:678px;width:42px;height:33px;background:#b00000;font-size:5.5px"><span class="n">وتوكا</span><span>-1.46%</span></div>
<div class="b" style="left:1041px;top:710px;width:42px;height:22px;background:#8c0000;font-size:5.5px"><span class="n">دتماد</span><span>-0.52%</span></div>
<div class="b" style="left:1082px;top:678px;width:34px;height:26px;background:#b00000;font-size:5.2px"><span class="n">شاملا</span><span>-1.46%</span></div>
<div class="b" style="left:1082px;top:703px;width:20px;height:29px;background:#22ee22;font-size:4px"><span class="n">كفرا</span><span>3.52%</span></div>
<div class="b" style="left:1101px;top:703px;width:15px;height:29px;background:#00ec00;font-size:4px"><span class="n">ثنوسا</span><span>4.91%</span></div>
<div class="b" style="left:1125px;top:684px;width:34px;height:30px;background:#008c00;font-size:6px"><span class="n">البرز</span><span>1.68%</span></div>
<div class="b" style="left:1125px;top:713px;width:34px;height:19px;background:#22ee22;font-size:5.2px"><span class="n">رتكو</span><span>3.52%</span></div>
<div class="b" style="left:1158px;top:684px;width:29px;height:17px;background:#008c00;font-size:4.5px"><span class="n">ساروم</span><span>1.47%</span></div>
<div class="b" style="left:1158px;top:700px;width:19px;height:17px;background:#22ee22;font-size:4px"><span class="n">غبشهر</span><span>3.52%</span></div>
<div class="b" style="left:1176px;top:700px;width:11px;height:17px;background:#8c0000;font-size:5px"></div>
<div class="b" style="left:1158px;top:716px;width:10px;height:16px;background:#005200;font-size:5px"></div>
<div class="b" style="left:1167px;top:716px;width:10px;height:16px;background:#005200;font-size:5px"></div>
<div class="b" style="left:1176px;top:716px;width:11px;height:16px;background:#005200;font-size:5px"></div>
<div class="b" style="left:1196px;top:663px;width:40px;height:27px;background:#8c0000;font-size:5.5px"><span class="n">كمنگنز</span><span>-0.52%</span></div>
<div class="b" style="left:1244px;top:665px;width:16px;height:17px;background:#22ee22;font-size:4px"><span class="n">فباهنر</span><span>3.52%</span></div>
<div class="b" style="left:1259px;top:665px;width:14px;height:17px;background:#00c800;font-size:4px"><span class="n">ساذري</span><span>2.41%</span></div>
<div class="b" style="left:1281px;top:665px;width:17px;height:17px;background:#00c800;font-size:4px"><span class="n">ولساپا</span><span>2.41%</span></div>
<div class="b" style="left:1196px;top:721px;width:40px;height:11px;background:#8c0000;font-size:5px"></div>
<svg style="left:1125px;top:20px" width="165" height="70" viewBox="0 0 165 70" role="img" aria-label="رکنا"><title>رکنا</title>
<defs>
<linearGradient id="rg" gradientUnits="userSpaceOnUse" x1="30" y1="0" x2="140" y2="0"><stop offset="0" stop-color="#e3111b"/><stop offset="0.55" stop-color="#b00c12"/><stop offset="1" stop-color="#6e0707"/></linearGradient>
</defs>
<g stroke="#fff" stroke-width="1" stroke-linejoin="round">
<path d="M8 7.8 H21.3 V47.8 H35.6 L24.4 61.1 H18 Q8 61.1 8 51 Z" fill="#000"/>
<path d="M82.1 7.4 H141.8 L130 19.2 H70.8 Z" fill="url(#rg)"/>
<path d="M66.5 24.1 H100 C112 24.1 114.9 33 114.9 43 C114.9 53 112 61.8 100 61.8 H31.5 L42.8 49.9 H98 C102.5 49.9 104.7 46.5 104.7 42.4 C104.7 38.3 102.5 34.8 98 34.8 H56.2 Z" fill="url(#rg)"/>
<path d="M141.8 34.8 H155.8 L130 60.7 H116 Z" fill="#000"/>
</g>
<circle cx="42.9" cy="19.6" r="11" fill="#2bd62b" stroke="#f4f4f4" stroke-width="1.6"/>
<path d="M34.5 12 Q38 8.8 42 9.6 Q44.5 11 43.8 14.5 Q42.6 17.2 44.6 19.6 Q48 21 47.4 24.6 Q45.8 28.8 42.6 29.6 Q40.4 27.6 40.6 24.8 Q40 21.8 37 20.4 Q34.2 18 34.5 12 Z" fill="#c0121a"/>
<path d="M46 10 Q50.5 11.5 52 15.5 Q49.5 16 47.5 13.8 Z" fill="#c0121a"/>
<path d="M33 22 Q35 24 36.5 27" stroke="#fff" stroke-width="0.8" fill="none"/>
</svg>

</div></body></html>
